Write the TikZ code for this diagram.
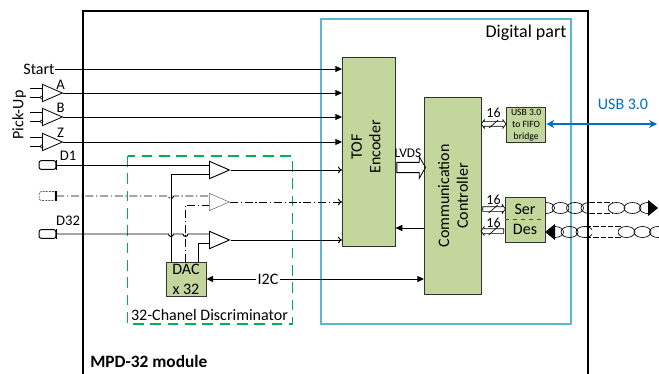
\documentclass[tikz,border=0pt]{standalone}
\usepackage{fontspec}
\setmainfont{Carlito}
\usetikzlibrary{arrows.meta,positioning,shapes.geometric,shapes.arrows}

\definecolor{blockgreen}{HTML}{C3D69B}
\definecolor{digitalblue}{HTML}{5FB4CE}
\definecolor{discgreen}{HTML}{00B050}
\definecolor{usbblue}{HTML}{0070C0}

\tikzset{
  block/.style={draw=black!80,fill=blockgreen,line width=0.7pt,inner sep=0pt,anchor=north west},
  cmp/.style={draw,isosceles triangle,isosceles triangle stretches,shape border rotate=0,
    minimum width=13pt,minimum height=15pt,inner sep=0pt,anchor=lower side,line width=0.6pt},
  ghost/.style={draw=black!60,line width=0.4pt},
  txt/.style={inner sep=0pt,font=\fontsize{12}{14}\selectfont,align=center},
  small/.style={inner sep=0pt,font=\fontsize{10}{12}\selectfont},
  sig/.style={line width=0.7pt},
  ddot/.style={sig,dash pattern=on 6pt off 2pt on 1pt off 2pt},
  fine/.style={line width=0.4pt,dash pattern=on 1.5pt off 0.8pt},
  arr/.style={-{Triangle[length=5pt,width=4.5pt]}},
  openarr/.style={-{To[length=3pt,width=5pt]}},
  busone/.style={draw,single arrow,inner xsep=0pt,inner ysep=1.5pt,single arrow head extend=1.5pt,
    single arrow tip angle=110,line width=0.5pt},
  bustwo/.style={draw,double arrow,inner xsep=0pt,inner ysep=1.5pt,double arrow head extend=1.5pt,
    double arrow tip angle=110,line width=0.5pt},
  plug/.style={draw,rounded corners=1.5pt,minimum width=12.5pt,minimum height=6.5pt,inner sep=0pt,line width=0.6pt},
}

\begin{document}
\begin{tikzpicture}[x=0.75pt,y=-0.75pt]
  \useasboundingbox (0,0) rectangle (659,374);

  % frames
  \draw[line width=1.5pt] (83,374) -- (83,11) -- (587.5,11) -- (587.5,374);
  \draw[digitalblue,line width=0.9pt] (321,19) rectangle (571,324);
  \draw[discgreen,line width=1.1pt,dash pattern=on 8pt off 5pt] (127.5,156) rectangle (292.5,324);

  \node[txt,font=\fontsize{13.5}{16}\selectfont] (digital) at (526,33) {Digital part};
  \node[txt,font=\bfseries\fontsize{13}{16}\selectfont,anchor=west] (module) at (90,361) {MPD-32 module};
  \node[txt] (disc) at (209.5,315) {32-Chanel Discriminator};

  % main blocks
  \node[block,minimum width=39.5pt,minimum height=141.5pt] (tof) at (342,57) {};
  \node[txt,rotate=90] (toftxt) at (366,147) {TOF\\Encoder};
  \node[block,minimum width=43pt,minimum height=147.5pt] (comm) at (424,97.5) {};
  \node[txt,rotate=90] (commtxt) at (453,196) {Communication\\Controller};
  \node[block,minimum width=29.5pt,minimum height=25.5pt,font=\fontsize{7.2}{9}\selectfont,align=center] (usb) at (506,107.5) {USB 3.0\\to FIFO\\bridge};
  \node[block,minimum width=30pt,minimum height=34pt] (serdes) at (504.5,196.5) {};
  \node[txt] (ser) at (525,209) {Ser};
  \node[txt] (des) at (525,229.5) {Des};
  \draw[black!70,dashed,line width=0.7pt] (serdes.west) -- (serdes.east);
  \node[block,minimum width=30pt,minimum height=25.5pt,font=\fontsize{12}{15}\selectfont,align=center] (dac) at (165.5,262) {DAC\\x 32};

  % pick-up inputs
  \node[txt] (start) at (39,69) {Start};
  \node[txt,rotate=90] (pickup) at (19,115) {Pick-Up};
  \draw[sig,arr] (start.east) -- (start.east -| tof.west);
  \foreach \n/\y/\ly in {A/93/85, B/117/108, Z/142/133} {
    \node[cmp] (cmp\n) at (42,\y) {};
    \node[small,font=\fontsize{11}{13}\selectfont] (lab\n) at (60.5,\ly) {\n};
    \coordinate (in\n) at (30,\y-4.5);
    \coordinate (inb\n) at (30,\y+4.5);
    \draw[sig] (in\n) -- (42,\y-4.5);
    \draw[sig] (inb\n) -- (40,\y+4.5);
    \draw[line width=0.5pt] (41.5,\y+4.5) circle (1.5);
    \draw[sig,arr] (cmp\n.apex) -- (cmp\n.apex -| tof.west);
  }

  % detector channels
  \foreach \n/\y/\oy/\st/\ct/\pl in {a/165/170/sig/sig/sig, b/196/202/ddot/ghost/fine, c/234/240/sig/sig/sig} {
    \node[plug,\pl] (plug\n) at (47.5,\y) {};
    \draw[line width=1pt] (plug\n.north east) -- (plug\n.south east);
    \node[cmp,\ct] (disc\n) at (209,\oy) {};
    \draw[\st,openarr] (disc\n.apex) -- (disc\n.apex -| tof.west);
  }
  \node[small,font=\fontsize{11}{13}\selectfont] (labd1) at (68,156) {D1};
  \node[small,font=\fontsize{11}{13}\selectfont] (labd32) at (68,221) {D32};

  % inputs with hops over the DAC lines
  \draw[sig] (pluga.east) -- (209,165);
  \draw[ddot] (plugb.east) -- (168.5,196) arc[start angle=180,end angle=0,radius=2.5] -- (209,196);
  \draw[sig] (plugc.east) -- (168.5,234) arc[start angle=180,end angle=0,radius=2.5]
    -- (183,234) arc[start angle=180,end angle=0,radius=2.5] -- (209,234);

  % DAC thresholds
  \draw[sig] (171,262) -- (171,174) -- (209,174);
  \draw[ddot] (185.5,262) -- (185.5,205) -- (209,205);
  \draw[sig] (198,262) -- (198,243) -- (209,243);

  % I2C
  \node[txt,fill=white,inner sep=1pt] (i2c) at (268,279) {I2C};
  \draw[sig,arr] (i2c.west) -- (i2c.west -| dac.east);
  \draw[sig,arr] (i2c.east) -- (i2c.east -| comm.west);

  % links between blocks
  \draw[sig,arr] (comm.west |- 0,228) -- (tof.east |- 0,228);
  \node[draw,single arrow,inner xsep=0pt,inner ysep=3.55pt,single arrow head extend=4.3pt,
    single arrow tip angle=120,minimum height=21.5pt,line width=0.6pt] (lvdsbus) at (409.7,167.5) {};
  \node[small] (lvds) at (408,153) {LVDS};

  % 16 bit buses
  \node[bustwo,minimum height=18.5pt] (busu) at (493.6,124) {};
  \node[busone,minimum height=17pt] (busser) at (493.2,209) {};
  \node[busone,minimum height=17pt,shape border rotate=180] (busdes) at (493.2,231) {};
  \foreach \b/\ly in {busu/113, busser/200, busdes/223} {
    \draw[line width=0.5pt] ([xshift=-3.4pt,yshift=-3pt]\b.center) -- ([xshift=3.4pt,yshift=3pt]\b.center);
    \node[small,font=\fontsize{10.5}{12}\selectfont] (num\b) at (493.5,\ly) {16};
  }

  % USB link
  \node[txt,text=usbblue] (usbtxt) at (623,104) {USB 3.0};
  \coordinate (usbout) at (657,124);
  \draw[usbblue,line width=1.2pt,{Stealth[length=6pt,width=6pt]}-{Stealth[length=6pt,width=6pt]}] (usb.east |- usbout) -- (usbout);

  % twisted pairs
  \foreach \y/\xa/\xb/\cs in {208/545/589.5/{546,560.5,575,589.5}, 208/608/648/{616.5,632.5,648},
      232/555/592/{555,569.5,584.5}, 232/618/659/{626.5,642.5,658}} {
    \begin{scope}
      \clip (\xa,\y-8) rectangle (\xb,\y+8);
      \foreach \c in \cs
        \draw[line width=0.5pt] (\c,\y) ellipse [x radius=8.5,y radius=5.5];
    \end{scope}
  }
  \draw[line width=0.4pt,dash pattern=on 4pt off 1.5pt] (589.5,202.5) -- (612,202.5) (589.5,213.5) -- (612,213.5);
  \draw[line width=0.4pt,dash pattern=on 4pt off 1.5pt] (586,226.5) -- (622,226.5) (586,237.5) -- (622,237.5);
  \fill (648,200) -- (658,208) -- (648,216) -- cycle;
  \fill (555,224) -- (545,232) -- (555,240) -- cycle;
\end{tikzpicture}
\end{document}
